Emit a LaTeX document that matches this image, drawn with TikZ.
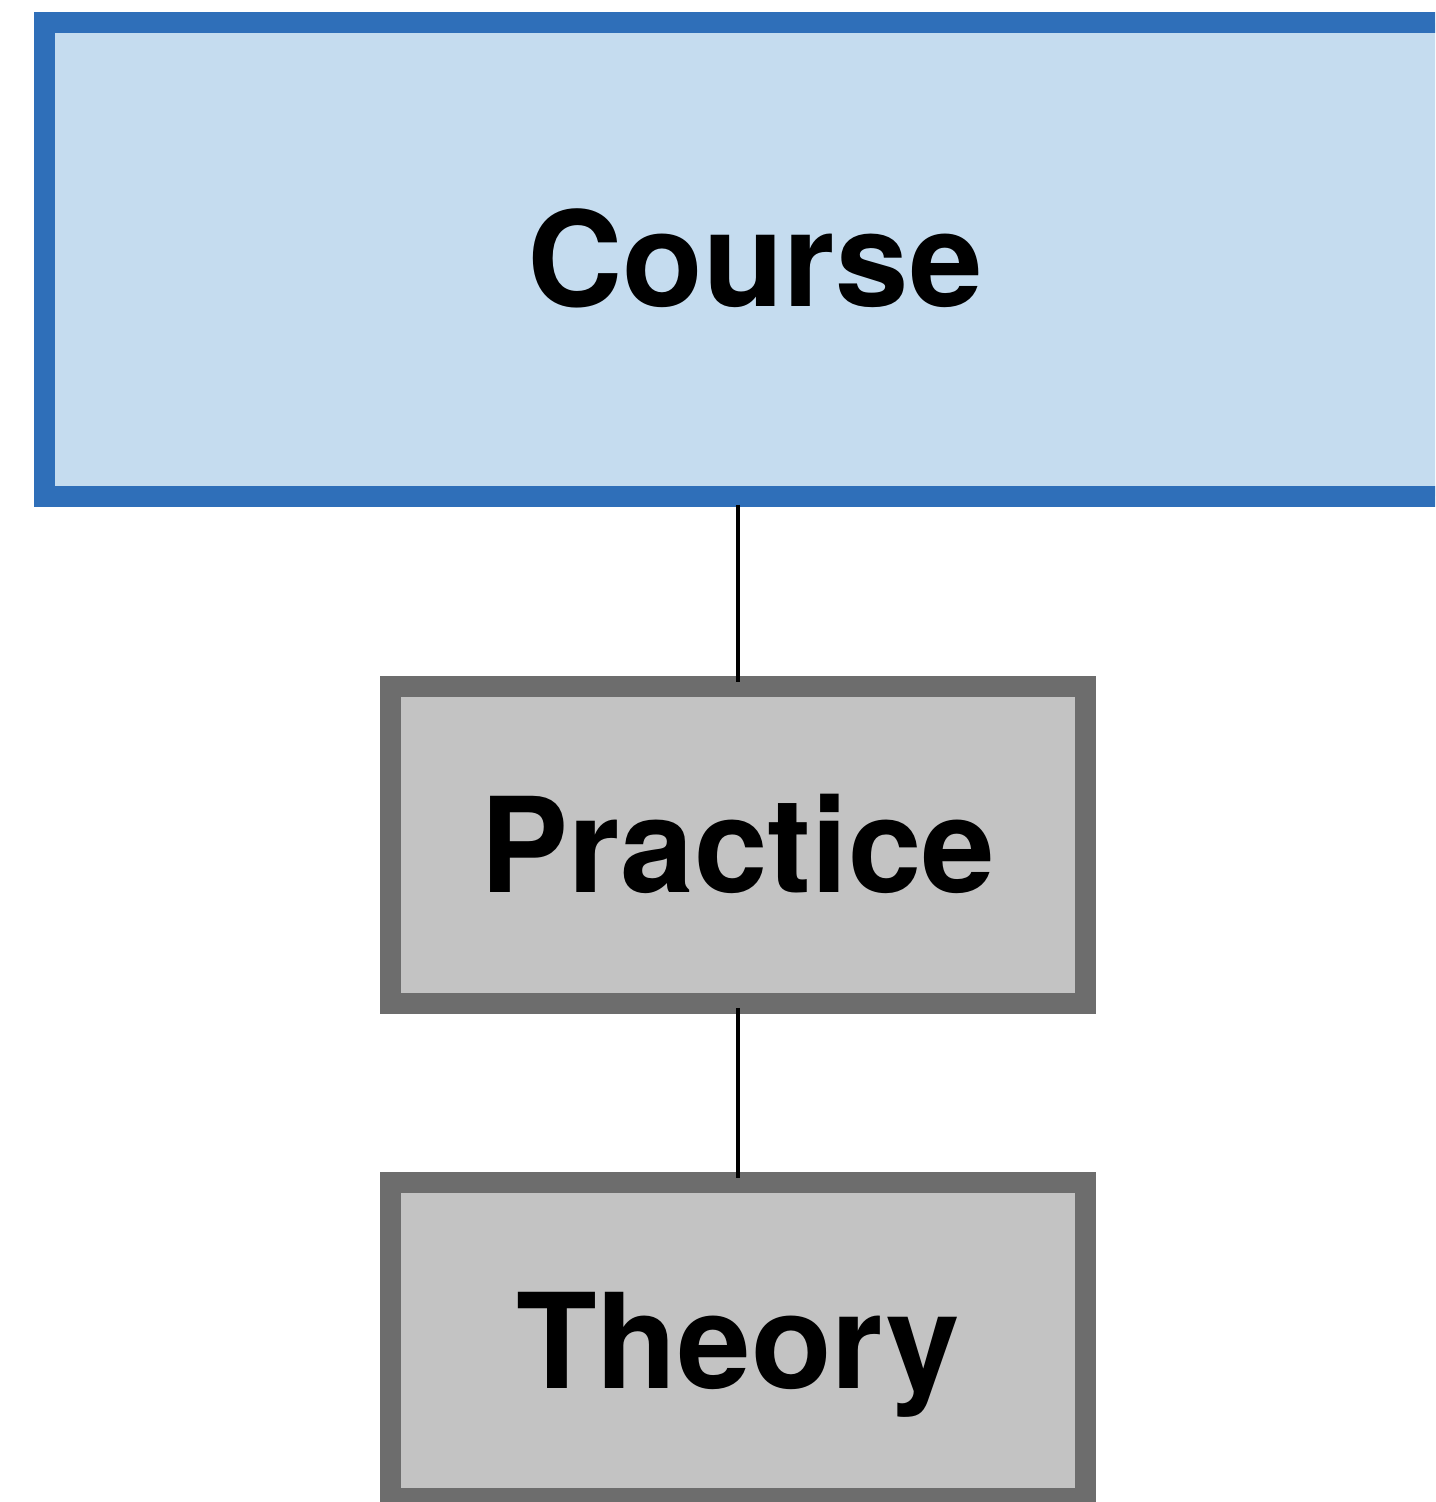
\documentclass[tikz,border=0pt]{standalone}
\usepackage{fontspec}
\setmainfont{TeX Gyre Heros}
\usepackage{tikz}
\usetikzlibrary{positioning}
\definecolor{topline}{RGB}{47,111,185}
\definecolor{topfill}{RGB}{197,220,239}
\definecolor{subline}{RGB}{109,109,109}
\definecolor{subfill}{RGB}{195,195,195}
\tikzset{
  box/.style={rectangle,line width=10.5pt,font=\fontsize{66}{70}\selectfont\bfseries,
    text height=47.5pt,text depth=0pt,inner sep=0pt},
  topbox/.style={box,draw=topline,fill=topfill,minimum width=711pt,minimum height=236.5pt},
  subbox/.style={box,draw=subline,fill=subfill,minimum width=347.5pt,minimum height=158.25pt},
  link/.style={line width=2pt,black}
}

\begin{document}
\begin{tikzpicture}[x=0.5pt,y=0.5pt,yscale=-1]
\useasboundingbox (0,0) rectangle (1435,1502);
\clip (0,0) rectangle (1435,1502);

% Boxes
\node [topbox] (course) at (755,259.5) {Course};
\node [subbox] (practice) at (738,845) {Practice};
\node [subbox] (theory) at (738,1340.5) {Theory};

% Links
\draw [link,shorten <=-1pt,shorten >=-3pt] (practice.north |- course.south) -- (practice.north);
\draw [link,shorten <=-3pt,shorten >=-3pt] (practice.south) -- (theory.north);

\end{tikzpicture}
\end{document}
